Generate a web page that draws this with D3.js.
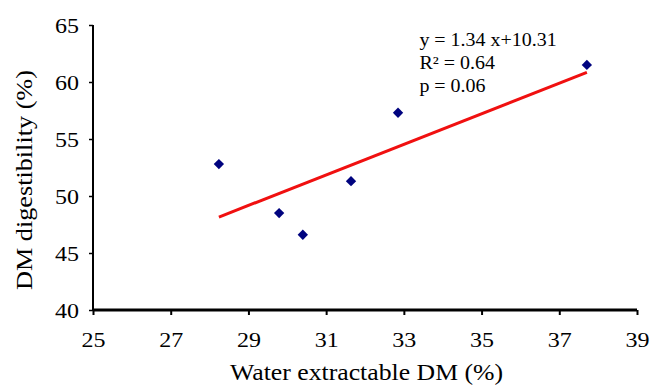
<!DOCTYPE html>
<html>
<head>
<meta charset="utf-8">
<script src="https://cdn.jsdelivr.net/npm/d3@7"></script>
<style>
  body { margin: 0; background: #fff; }
  text { font-family: "Liberation Serif", "Times New Roman", serif; fill: #000; }
</style>
</head>
<body>
<div id="chart"></div>
<script>
// data
const waterDM = [28.24, 29.79, 30.40, 31.64, 32.85, 37.71];
const digestibility = [52.8, 48.5, 46.6, 51.3, 57.3, 61.5];
const xTicks = [25, 27, 29, 31, 33, 35, 37, 39];
const yTicks = [40, 45, 50, 55, 60, 65];
const slope = 1.34, intercept = 10.31;
const statLines = ["y = 1.34 x+10.31", "R\u00b2 = 0.64", "p = 0.06"];

const W = 651, H = 389;
let margin = { left: 93, right: 14, top: 25, bottom: 79 };
let width = W - margin.left - margin.right;
let height = H - margin.top - margin.bottom;

let svg = d3.select("#chart").append("svg")
  .attr("width", W).attr("height", H)
  .append("g")
  .attr("transform", `translate(${margin.left},${margin.top})`);

let x = d3.scaleLinear().domain([25, 39]).range([0, width]);
let y = d3.scaleLinear().domain([40, 65]).range([height, 0]);

// x axis
let xAxis = svg.append("g")
  .attr("transform", `translate(0,${height})`)
  .call(d3.axisBottom(x).tickValues(xTicks).tickSize(5).tickFormat(d3.format("d")));
xAxis.select(".domain").attr("stroke-width", 3).attr("d", `M0,0H${width}`);
xAxis.selectAll(".tick line").attr("stroke-width", 2);
xAxis.selectAll("text")
  .attr("y", 37).attr("dy", null)
  .style("font-size", "20px").style("font-family", "Liberation Serif")
  .attr("textLength", 24).attr("lengthAdjust", "spacingAndGlyphs");

// y axis
let yAxis = svg.append("g")
  .call(d3.axisLeft(y).tickValues(yTicks).tickSize(4).tickPadding(10));
yAxis.select(".domain").attr("stroke-width", 2).attr("d", `M0,${height}V0`);
yAxis.selectAll(".tick line").attr("stroke-width", 1.5);
yAxis.selectAll("text")
  .attr("dy", "0.36em")
  .style("font-size", "20px").style("font-family", "Liberation Serif")
  .attr("textLength", 24).attr("lengthAdjust", "spacingAndGlyphs");

// axis titles
svg.append("text")
  .attr("x", x(32.04)).attr("y", height + 70)
  .attr("text-anchor", "middle")
  .attr("textLength", 273).attr("lengthAdjust", "spacingAndGlyphs")
  .style("font-size", "23px")
  .text("Water extractable DM (%)");

svg.append("text")
  .attr("transform", `translate(${-61},${y(51.4)})rotate(-90)`)
  .attr("text-anchor", "middle")
  .attr("textLength", 220).attr("lengthAdjust", "spacingAndGlyphs")
  .style("font-size", "24px")
  .text("DM digestibility (%)");

// regression line over the data range
let xr = d3.extent(waterDM);
svg.append("path")
  .datum(xr)
  .attr("fill", "none")
  .attr("stroke", "#f01010")
  .attr("stroke-width", 3)
  .attr("d", d3.line().x(d => x(d)).y(d => y(slope * d + intercept)));

// points
svg.selectAll(".pt")
  .data(waterDM.map((d, i) => [d, digestibility[i]]))
  .join("path")
  .attr("class", "pt")
  .attr("transform", d => `translate(${x(d[0])},${y(d[1])})`)
  .attr("d", d3.symbol(d3.symbolDiamond2, 68)())
  .attr("fill", "#00037f");

// stats
let stats = svg.append("g")
  .attr("transform", `translate(${x(33.4)},0) scale(1.11,1)`);
stats.selectAll(".stat")
  .data(statLines)
  .join("text")
  .attr("class", "stat")
  .attr("x", 0)
  .attr("y", (d, i) => 21 + i * 23)
  .style("font-size", "18px")
  .text(d => d);
</script>
</body>
</html>
